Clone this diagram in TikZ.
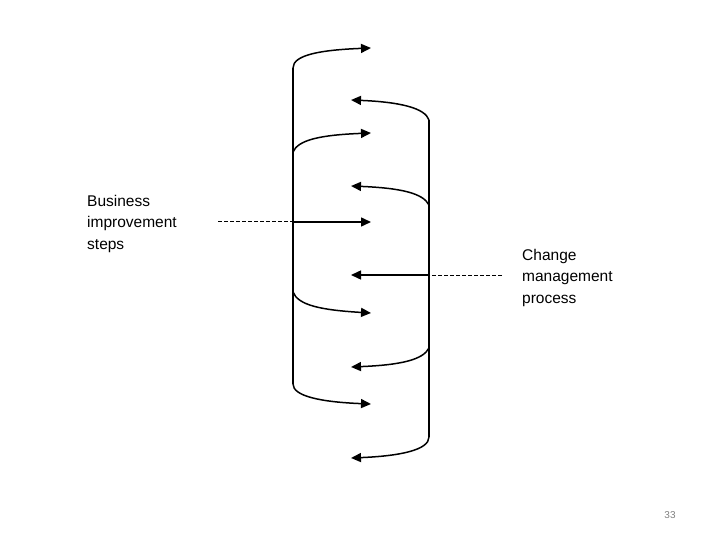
\documentclass[tikz,border=0pt]{standalone}
\usepackage{fontspec}
\setmainfont{Liberation Sans}
\usetikzlibrary{arrows.meta}
\begin{document}
\begin{tikzpicture}[x=1pt,y=-1pt,
  ln/.style={line width=1.5pt},
  ar/.style={ln,-{Triangle[length=10pt,width=9pt]}},
  lbl/.style={align=left,anchor=north west,inner sep=0pt,font=\fontsize{15.5}{21.5}\selectfont}]
\useasboundingbox (0,0) rectangle (720,540);
% left and right vertical lines
\coordinate (L1) at (293,68); \coordinate (L2) at (293,152);
\coordinate (L3) at (293,292); \coordinate (L4) at (293,384);
\coordinate (R1) at (429,120); \coordinate (R2) at (429,205);
\coordinate (R3) at (429,348); \coordinate (R4) at (429,437);
\draw[ln] (L1) -- (L4);
\draw[ln] (R1) -- (R4);
% arrow tips
\coordinate (A1) at (371,48); \coordinate (A2) at (371,133);
\coordinate (A3) at (371,313); \coordinate (A4) at (371,404);
\coordinate (B1) at (351,100); \coordinate (B2) at (351,186);
\coordinate (B3) at (351,367); \coordinate (B4) at (351,458);
\draw[ar] (L1) .. controls (293,55) and (320,50) .. (A1);
\draw[ar] (L2) .. controls (298,140) and (320,135) .. (A2);
\draw[ar] (L3) .. controls (298,305) and (320,310) .. (A3);
\draw[ar] (L4) .. controls (293,396) and (320,402) .. (A4);
\draw[ar] (R1) .. controls (425,108) and (400,102) .. (B1);
\draw[ar] (R2) .. controls (423,193) and (400,188) .. (B2);
\draw[ar] (R3) .. controls (423,360) and (400,365) .. (B3);
\draw[ar] (R4) .. controls (429,450) and (400,456) .. (B4);
% labels
\node[lbl] (bus) at (87,195) {Business\\improvement\\steps};
\node[lbl] (chg) at (522,249) {Change\\management\\process};
\node[anchor=center,inner sep=0pt,font=\fontsize{10}{12}\selectfont,text=gray] (pg) at (670,515) {33};
% pointer arrows
\coordinate (p1) at (218,222); \coordinate (p2) at (502,275);
\draw[ln,line width=1pt,dash pattern=on 4pt off 2pt] (p1) -- (293,222);
\draw[ar] (293,222) -- (A3 |- p1);
\draw[ln,line width=1pt,dash pattern=on 4pt off 2pt] (p2) -- (429,275);
\draw[ar] (429,275) -- (B3 |- p2);
\end{tikzpicture}
\end{document}
